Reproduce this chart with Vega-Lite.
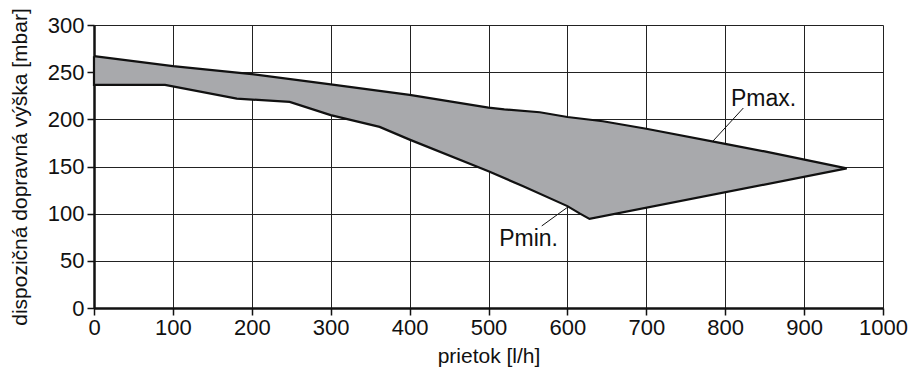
{
  "$schema": "https://vega.github.io/schema/vega-lite/v6.json",
  "width": 789,
  "height": 283,
  "autosize": {"type": "none"},
  "padding": {"left": 94, "top": 25, "right": 29, "bottom": 63},
  "background": "white",
  "config": {
    "view": {"stroke": null},
    "font": "Liberation Sans",
    "axis": {
      "labelFont": "Liberation Sans",
      "titleFont": "Liberation Sans",
      "labelFontSize": 22,
      "titleFontSize": 21,
      "titleFontWeight": "normal",
      "labelColor": "#111",
      "titleColor": "#111",
      "labelFlush": false,
      "labelOverlap": false,
      "gridColor": "#222",
      "gridWidth": 1,
      "gridOpacity": 1,
      "domainColor": "#111",
      "domainWidth": 2.5,
      "tickColor": "#111",
      "tickSize": 7,
      "tickWidth": 1.5
    }
  },
  "datasets": {
    "poly": [
      {"i": 1, "flow": 0, "p": 267},
      {"i": 2, "flow": 100, "p": 256.5},
      {"i": 3, "flow": 200, "p": 248},
      {"i": 4, "flow": 300, "p": 237},
      {"i": 5, "flow": 400, "p": 226},
      {"i": 6, "flow": 500, "p": 212.5},
      {"i": 7, "flow": 520, "p": 210.5},
      {"i": 8, "flow": 565, "p": 207.5},
      {"i": 9, "flow": 600, "p": 202.5},
      {"i": 10, "flow": 645, "p": 198},
      {"i": 11, "flow": 700, "p": 190},
      {"i": 12, "flow": 800, "p": 174},
      {"i": 13, "flow": 850, "p": 166},
      {"i": 14, "flow": 954, "p": 148},
      {"i": 15, "flow": 628, "p": 94.5},
      {"i": 16, "flow": 616, "p": 100},
      {"i": 17, "flow": 600, "p": 108},
      {"i": 18, "flow": 544, "p": 129},
      {"i": 19, "flow": 500, "p": 145},
      {"i": 20, "flow": 400, "p": 178.5},
      {"i": 21, "flow": 362, "p": 192},
      {"i": 22, "flow": 300, "p": 204.5},
      {"i": 23, "flow": 248, "p": 218.5},
      {"i": 24, "flow": 181, "p": 222},
      {"i": 25, "flow": 90, "p": 236.5},
      {"i": 26, "flow": 0, "p": 236.5},
      {"i": 27, "flow": 0, "p": 267}
    ],
    "labels": [
      {"label": "Pmax.", "x": 890, "y": 214.5, "lx": 823, "ly": 212, "lx2": 784, "ly2": 176.5},
      {"label": "Pmin.", "x": 588, "y": 66, "lx": 567.5, "ly": 87, "lx2": 600.5, "ly2": 107}
    ]
  },
  "layer": [
    {
      "data": {"name": "poly"},
      "mark": {"type": "line", "fill": "#a8a9ac", "stroke": "#111", "strokeWidth": 2.2, "strokeJoin": "miter"},
      "encoding": {
        "x": {"field": "flow", "type": "quantitative",
          "scale": {"domain": [0, 1000], "nice": false},
          "axis": {"values": [0,100,200,300,400,500,600,700,800,900,1000], "format": "d", "title": "prietok [l/h]", "labelPadding": 2, "titlePadding": 7, "grid": true}},
        "y": {"field": "p", "type": "quantitative",
          "scale": {"domain": [0, 300], "nice": false},
          "axis": {"values": [0,50,100,150,200,250,300], "format": "d", "title": "dispozičná dopravná výška [mbar]", "labelPadding": 3, "titlePadding": 17, "grid": true}},
        "order": {"field": "i", "type": "quantitative"}
      }
    },
    {
      "data": {"name": "labels"},
      "mark": {"type": "rule", "stroke": "#111", "strokeWidth": 1},
      "encoding": {
        "x": {"field": "lx", "type": "quantitative"},
        "y": {"field": "ly", "type": "quantitative"},
        "x2": {"field": "lx2"},
        "y2": {"field": "ly2"}
      }
    },
    {
      "data": {"name": "labels"},
      "mark": {"type": "text", "font": "Liberation Sans", "fontSize": 23, "color": "#111", "align": "right", "baseline": "alphabetic"},
      "encoding": {
        "x": {"field": "x", "type": "quantitative"},
        "y": {"field": "y", "type": "quantitative"},
        "text": {"field": "label"}
      }
    }
  ]
}
